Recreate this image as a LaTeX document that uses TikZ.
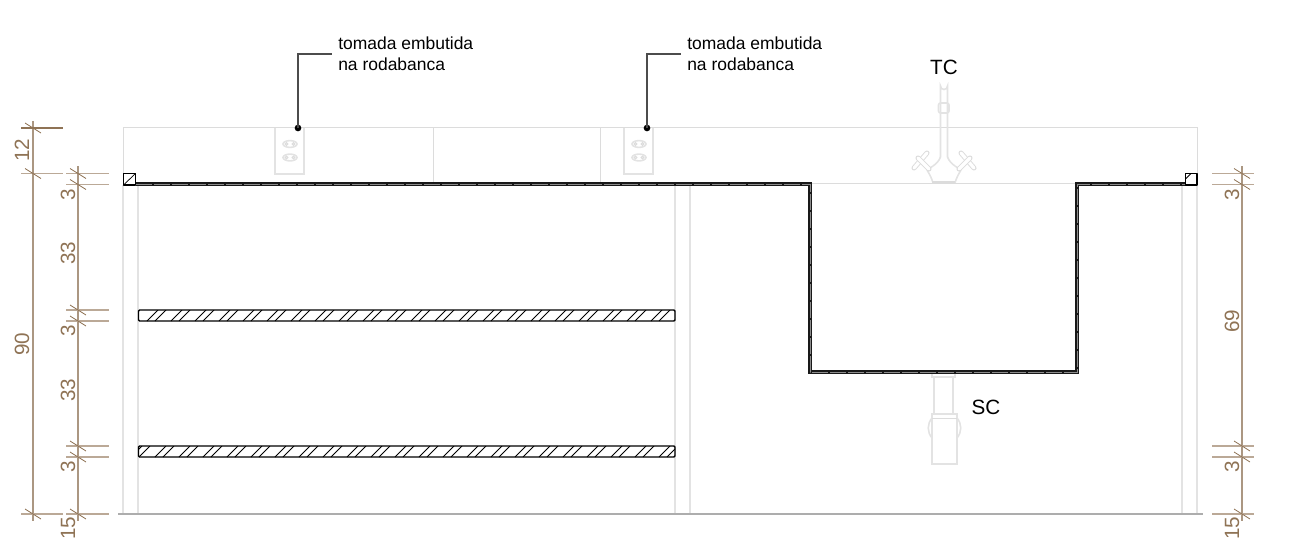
\documentclass[tikz,border=0pt]{standalone}
\usepackage{fontspec}
\setmainfont{Liberation Sans}
\definecolor{dimline}{HTML}{AB9782}
\definecolor{extline}{HTML}{BBA997}
\definecolor{dimtext}{HTML}{8F7355}
\definecolor{ghost}{HTML}{DCDCDC}
\tikzset{
  ghostline/.style={draw=ghost,line width=0.75pt},
  ghostwide/.style={draw=ghost!80,line width=1.2pt},
  ghostbar/.style={draw=ghost,line width=0.7pt,double=white,double distance=2.4pt,line cap=round},
  floorline/.style={draw=black!32,line width=1.1pt},
  dimmain/.style={draw=dimline,line width=1pt},
  dimext/.style={draw=extline,line width=1.05pt},
  dimtick/.style={draw=dimtext,line width=0.6pt},
  dimlabel/.style={text=dimtext,font=\fontsize{15.5}{15.5}\selectfont,rotate=90,inner sep=0pt,anchor=center},
  callout/.style={text=black,font=\fontsize{13.1}{15.7}\selectfont,align=left,anchor=north west,inner sep=0pt},
  bigtext/.style={text=black,font=\fontsize{15.5}{15.5}\selectfont,inner sep=0pt,anchor=center},
  leader/.style={draw=black!70,line width=0.85pt},
  leaderdot/.style={circle,fill=black,inner sep=0pt,minimum size=5pt},
  counter/.style={draw=black!90,line width=2.3pt,line join=miter},
  counterdash/.style={draw=black!45,line width=0.4pt,dash pattern=on 12pt off 1.5pt},
  cut/.style={draw=black,line width=1.1pt,line join=round},
  hatchline/.style={draw=black,line width=0.55pt},
}
\newcommand{\dimtick}[2]{\draw[dimtick] (#1-8,#2-5) -- (#1+8,#2+5);}
\begin{document}
\begin{tikzpicture}[x=0.75pt,y=-0.75pt]
\useasboundingbox (0,0) rectangle (1297,542);
% ---- light wall and cabinet lines
\draw[ghostline] (123,173) -- (123,128) -- (1197,128) -- (1197,173);
\draw[ghostline] (433,128) -- (433,183);
\draw[ghostline] (600,128) -- (600,183);
\draw[ghostline] (810,183) -- (1077,183);
\foreach \vx in {123,138,675,690,1182,1197}{\draw[ghostwide] (\vx,185) -- (\vx,514);}
\draw[floorline] (118,514) -- (1203,514);
% ---- sockets
\foreach \sx in {275,624}{
  \draw[ghostwide] (\sx,128) -- (\sx,174) -- (\sx+29,174) -- (\sx+29,128);
  \foreach \sy in {144,157.5}{
    \draw[ghostwide] (\sx+15,\sy) ellipse (7 and 3.4);
    \draw[ghostline] (\sx+11.5,\sy) circle (1.4);
    \draw[ghostline] (\sx+18.5,\sy) circle (1.4);
  }
}
% ---- faucet
\draw[ghostwide] (940.5,157) -- (940.5,86) arc (180:0:3.5) -- (947.5,157);
\draw[ghostwide,rounded corners=1.5] (938.5,103) rectangle (949,113);
\draw[ghostwide] (940.5,157) .. controls (939,161) and (936,164) .. (933,166);
\draw[ghostwide] (947.5,157) .. controls (949,161) and (952,164) .. (955,166);
\draw[ghostwide] (927,170) .. controls (930,175) and (932,179) .. (933,183);
\draw[ghostwide] (961,170) .. controls (958,175) and (956,179) .. (955,183);
\draw[ghostwide] (927,170) -- (933,166);
\draw[ghostwide] (961,170) -- (955,166);
\fill[ghost] (932,180.5) rectangle (955,183.5);
\draw[ghostbar] (914,168) -- (927,153);
\draw[ghostbar] (974,168) -- (961,153);
\draw[ghostbar] (918,158) -- (929,169);
\draw[ghostbar] (970,158) -- (959,169);
% ---- drain
\draw[ghostwide] (932,373) -- (932,377) -- (955,377) -- (955,373);
\draw[ghostwide] (934,377) -- (934,414) (953,377) -- (953,414);
\draw[ghostwide] (932,414) rectangle (957,464);
\draw[ghostwide] (932,418) .. controls (927,424) and (927,432) .. (932,438);
\draw[ghostwide] (957,418) .. controls (962,424) and (962,432) .. (957,438);
\draw[ghostline] (932,418) -- (957,418);
% ---- countertop and sink
\draw[counter] (136,184) -- (810,184) -- (810,372) -- (1077,372) -- (1077,184) -- (1186,184);
\draw[counterdash] (136,184) -- (810,184) -- (810,372) -- (1077,372) -- (1077,184) -- (1186,184);
\draw[cut] (123.5,173.5) rectangle (135.5,185);
\draw[hatchline] (123.5,185) -- (135.5,173.5);
\draw[cut] (1185.5,173.5) rectangle (1197,185);
\draw[hatchline] (1185.5,179) -- (1191,173.5);
% ---- shelves
\foreach \sy/\so in {310/147,446/131}{
  \draw[cut,rounded corners=0.8] (138.5,\sy) rectangle (675,\sy+11);
  \begin{scope}
    \clip (138.5,\sy) rectangle (675,\sy+11);
    \foreach \k in {0,...,22}{
      \draw[hatchline] (\so+24*\k,\sy+11) -- (\so+24*\k+11,\sy);
      \draw[hatchline] (\so+24*\k+8,\sy+11) -- (\so+24*\k+19,\sy);
    }
  \end{scope}
}
% ---- outer left dimension
\draw[dimmain] (33,121) -- (33,521);
\draw[draw=dimtext,line width=0.9pt] (21,128) -- (63,128);
\draw[dimext] (21,173.5) -- (63,173.5) (21,514) -- (63,514);
\dimtick{33}{128}\dimtick{33}{173.5}\dimtick{33}{514}
% ---- inner left dimension
\draw[dimmain] (78,166) -- (78,521);
\foreach \dy in {173.5,184.5,310,321,446,457,514}{
  \draw[dimext] (66,\dy) -- (109,\dy);
  \dimtick{78}{\dy}
}
% ---- right dimension
\draw[dimmain] (1242,166) -- (1242,521);
\foreach \dy in {173.5,184.5,446,457,514}{
  \draw[dimext] (1212,\dy) -- (1254,\dy);
  \dimtick{1242}{\dy}
}
% ---- dimension labels
\node[dimlabel] (d12) at (22,150) {12};
\node[dimlabel] (d90) at (22,344) {90};
\node[dimlabel] (la) at (68,195) {3};
\node[dimlabel] (lb) at (68,253) {33};
\node[dimlabel] (lc) at (68,331) {3};
\node[dimlabel] (ld) at (68,390) {33};
\node[dimlabel] (le) at (68,467) {3};
\node[dimlabel] (lf) at (68,528) {15};
\node[dimlabel] (ra) at (1232,195) {3};
\node[dimlabel] (rb) at (1232,321) {69};
\node[dimlabel] (rc) at (1232,467) {3};
\node[dimlabel] (rd) at (1232,528) {15};
% ---- callouts
\node[callout] (t1) at (338,37) {tomada embutida\\na rodabanca};
\node[callout] (t2) at (687,37) {tomada embutida\\na rodabanca};
\node[leaderdot] (p1) at (298,128) {};
\node[leaderdot] (p2) at (647,128) {};
\coordinate (e1) at (332,54);
\coordinate (e2) at (681,54);
\draw[leader] (p1.center) |- (e1);
\draw[leader] (p2.center) |- (e2);
\node[bigtext] (tc) at (944,67) {TC};
\node[bigtext] (sc) at (986,407) {SC};
\end{tikzpicture}
\end{document}
